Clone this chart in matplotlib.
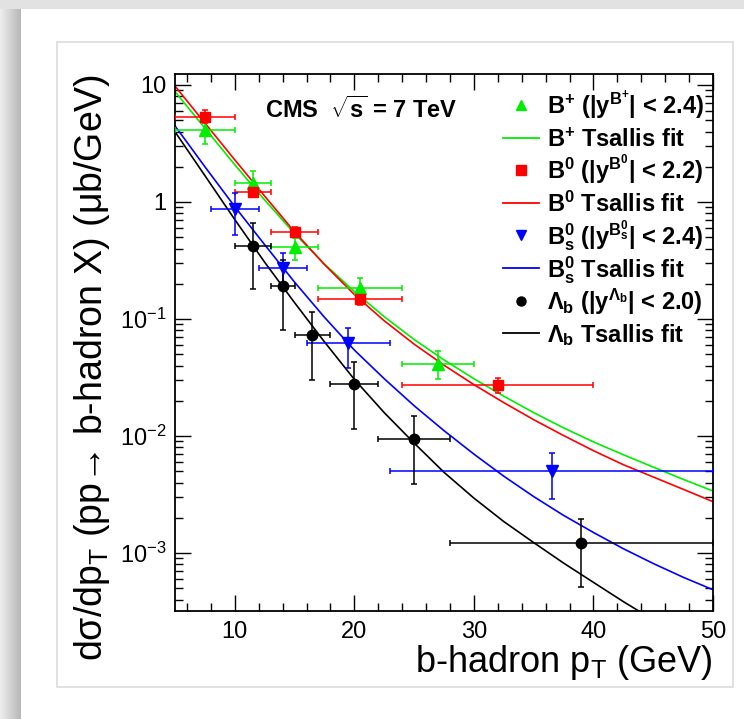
import numpy as np
import matplotlib
matplotlib.use("Agg")
import matplotlib.pyplot as plt
from matplotlib.patches import Rectangle
from matplotlib.ticker import MultipleLocator, LogLocator, FixedLocator, FuncFormatter, NullFormatter

plt.rcParams['font.family'] = ['Liberation Sans', 'DejaVu Sans']
plt.rcParams['mathtext.fontset'] = 'custom'
plt.rcParams['mathtext.rm'] = 'Liberation Sans'
plt.rcParams['mathtext.it'] = 'Liberation Sans:italic'
plt.rcParams['mathtext.bf'] = 'Liberation Sans:bold'
plt.rcParams['mathtext.sf'] = 'Liberation Sans'

# ---------------- data ----------------
# B+  (green triangles)
bp_x   = [7.5, 11.5, 15.0, 20.5, 27.0]
bp_xlo = [5.0, 10.0, 13.0, 17.0, 24.0]
bp_xhi = [10.0, 13.0, 17.0, 24.0, 30.0]
bp_y   = [4.1, 1.44, 0.415, 0.183, 0.0412]
bp_ylo = [3.13, 1.12, 0.32, 0.148, 0.0307]
bp_yhi = [4.85, 1.85, 0.49, 0.225, 0.0536]

# B0  (red squares)
b0_x   = [7.5, 11.5, 15.0, 20.5, 32.0]
b0_xlo = [5.0, 10.0, 13.0, 17.0, 24.0]
b0_xhi = [10.0, 13.0, 17.0, 24.0, 40.0]
b0_y   = [5.3, 1.22, 0.55, 0.147, 0.0273]
b0_ylo = [4.7, 1.11, 0.505, 0.132, 0.0232]
b0_yhi = [6.1, 1.35, 0.615, 0.165, 0.0315]

# Bs  (blue down-triangles)
bs_x   = [10.0, 14.0, 19.5, 36.5]
bs_xlo = [8.0, 12.0, 16.0, 23.0]
bs_xhi = [12.0, 16.0, 23.0, 50.0]
bs_y   = [0.866, 0.271, 0.062, 0.00505]
bs_ylo = [0.52, 0.19, 0.038, 0.00288]
bs_yhi = [1.19, 0.365, 0.084, 0.0071]

# Lambda_b  (black circles)
lb_x   = [11.5, 14.0, 16.5, 20.0, 25.0, 39.0]
lb_xlo = [10.0, 13.0, 15.0, 18.0, 22.0, 28.0]
lb_xhi = [13.0, 15.0, 18.0, 22.0, 28.0, 50.0]
lb_y   = [0.42, 0.191, 0.073, 0.0277, 0.0094, 0.00123]
lb_ylo = [0.18, 0.08, 0.030, 0.0116, 0.0039, 0.00051]
lb_yhi = [0.66, 0.32, 0.114, 0.043, 0.0149, 0.00194]

# Tsallis fit curves, values read along pT
fit_x  = [5, 7.5, 10, 12.5, 15, 17.5, 20, 22.5, 25, 27.5, 30,
          32.5, 35, 37.5, 40, 42.5, 45, 47.5, 50]
fit_bp = [8.77, 4.27, 2.08, 1.04, 0.537, 0.295, 0.172, 0.1047, 0.0668, 0.0447, 0.0309,
          0.0219, 0.01585, 0.01175, 0.00891, 0.00692, 0.00543, 0.00427, 0.00339]
fit_b0 = [9.77, 4.73, 2.29, 1.122, 0.556, 0.292, 0.162, 0.0966, 0.0610, 0.0403, 0.0275,
          0.0193, 0.0138, 0.0101, 0.0075, 0.00569, 0.00447, 0.00351, 0.00275]
fit_bs = [4.47, 2.0, 0.912, 0.4315, 0.2065, 0.1035, 0.0543, 0.0309, 0.01816, 0.01112, 0.00701,
          0.00454, 0.00304, 0.0021, 0.0015, 0.00109, 0.000815, 0.000622, 0.000486]
fit_lb = [3.98, 1.68, 0.708, 0.3055, 0.138, 0.0638, 0.0305, 0.01585, 0.00871, 0.0049, 0.00295,
          0.00186, 0.00123, 0.000822, 0.000562, 0.000385, 0.000269, 0.000191, 0.000135]

x_ticks = [10, 20, 30, 40, 50]
y_ticks = [1e-3, 1e-2, 1e-1, 1, 10]
y_ticklabels = [r'$10^{-3}$', r'$10^{-2}$', r'$10^{-1}$', '1', '10']

legend_labels = [
    r'B$^{\mathbf{+}}$ (|y$^{\mathbf{B^{+}}}$| < 2.4)',
    r'B$^{\mathbf{+}}$ Tsallis fit',
    r'B$^{\mathbf{0}}$ (|y$^{\mathbf{B^{0}}}$| < 2.2)',
    r'B$^{\mathbf{0}}$ Tsallis fit',
    r'B$^{\mathbf{0}}_{\mathbf{s}}$ (|y$^{\mathbf{B^{0}_{s}}}$| < 2.4)',
    r'B$^{\mathbf{0}}_{\mathbf{s}}$ Tsallis fit',
    r'$\mathbf{\Lambda_{b}}$ (|y$^{\mathbf{\Lambda_{b}}}$| < 2.0)',
    r'$\mathbf{\Lambda_{b}}$ Tsallis fit',
]

GREEN, RED, BLUE, BLACK = '#00ee00', '#ff0000', '#0000ff', '#000000'

# ---------------- figure ----------------
W, H = 744, 719
fig = plt.figure(figsize=(W / 100, H / 100), dpi=100)
fig.patch.set_facecolor('white')

# slide-like background with shadows
bg = fig.add_axes([0, 0, 1, 1], zorder=-10)
img = np.ones((H, W, 3))
img[:9, :, :] = 0.89
grad = np.linspace(0.93, 0.72, 21)
img[:, :21, :] = grad[None, :, None]
img[:9, :21, :] = 0.89
bg.imshow(img, extent=[0, W, H, 0], aspect='auto', interpolation='bilinear')
bg.set_xlim(0, W)
bg.set_ylim(H, 0)
bg.add_patch(Rectangle((57, 42), 676, 645, fill=False, ec='#dcdcdc', lw=1.2))
bg.axis('off')

ax = fig.add_axes([175 / W, 1 - 611 / H, 538 / W, 537 / H])
ax.set_yscale('log')
ax.set_xlim(5, 50)
ax.set_ylim(3.2e-4, 12.4)

lw_fit = 1.2
ax.plot(fit_x, fit_bp, color=GREEN, lw=lw_fit, zorder=2)
ax.plot(fit_x, fit_b0, color=RED, lw=lw_fit, zorder=2)
ax.plot(fit_x, fit_bs, color=BLUE, lw=lw_fit, zorder=2)
ax.plot(fit_x, fit_lb, color=BLACK, lw=lw_fit, zorder=2)

def draw(x, xlo, xhi, y, ylo, yhi, marker, color, ms):
    x = np.array(x); y = np.array(y)
    xerr = [x - np.array(xlo), np.array(xhi) - x]
    yerr = [y - np.array(ylo), np.array(yhi) - y]
    ax.errorbar(x, y, xerr=xerr, yerr=yerr, fmt=marker, color=color, ms=ms,
                mec=color, mfc=color, elinewidth=1.1, capsize=2.5, capthick=1.1, zorder=3)

draw(bp_x, bp_xlo, bp_xhi, bp_y, bp_ylo, bp_yhi, '^', GREEN, 8)
draw(b0_x, b0_xlo, b0_xhi, b0_y, b0_ylo, b0_yhi, 's', RED, 7)
draw(bs_x, bs_xlo, bs_xhi, bs_y, bs_ylo, bs_yhi, 'v', BLUE, 8)
draw(lb_x, lb_xlo, lb_xhi, lb_y, lb_ylo, lb_yhi, 'o', BLACK, 7.5)

# axes style (ROOT like)
for s in ax.spines.values():
    s.set_linewidth(1.3)
ax.xaxis.set_major_locator(FixedLocator(x_ticks))
ax.xaxis.set_minor_locator(MultipleLocator(2))
ax.yaxis.set_major_locator(FixedLocator(y_ticks))
ax.yaxis.set_major_formatter(FuncFormatter(lambda v, p: y_ticklabels[y_ticks.index(v)] if v in y_ticks else ''))
ax.yaxis.set_minor_locator(LogLocator(base=10, subs=np.arange(2, 10)))
ax.yaxis.set_minor_formatter(NullFormatter())
ax.tick_params(which='both', direction='in', top=True, right=True, labelsize=17, width=1.0)
ax.tick_params(which='major', length=11.5)
ax.tick_params(which='minor', length=5.5)
ax.tick_params(axis='x', pad=7)
ax.tick_params(axis='y', pad=6)

ax.set_xlabel(r'b-hadron p$_{\mathrm{T}}$ (GeV)', fontsize=26, loc='right', labelpad=0)
ax.set_ylabel('d\u03c3/dp$_{\\mathrm{T}}$ (pp\u2192 b-hadron X) (\u03bcb/GeV)', fontsize=27, loc='top', labelpad=6)

ax.text((265 - 175) / 538, (611 - 110) / 537, r'CMS  $\mathbf{\sqrt{s}}$ = 7 TeV', transform=ax.transAxes,
        fontsize=17, fontweight='bold', va='center', ha='left')

# legend drawn manually in axes coordinates
handles = [('^', GREEN), ('-', GREEN), ('s', RED), ('-', RED), ('v', BLUE), ('-', BLUE), ('o', BLACK), ('-', BLACK)]
for i, ((kind, col), lab) in enumerate(zip(handles, legend_labels)):
    yc = 105 + 32.6 * i
    ya = (611 - yc) / 537
    if kind == '-':
        ax.plot([(503 - 175) / 538, (539 - 175) / 538], [ya, ya], color=col, lw=1.3,
                transform=ax.transAxes, clip_on=False)
    else:
        ax.plot([(521 - 175) / 538], [ya], marker=kind, color=col, ms=7 if kind != 'o' else 6.5,
                ls='none', transform=ax.transAxes, clip_on=False)
    ax.text((547 - 175) / 538, (611 - yc - 9) / 537, lab, transform=ax.transAxes,
            fontsize=17, fontweight='bold', va='baseline', ha='left')

fig.savefig('out.png', dpi=100, facecolor=fig.get_facecolor())
